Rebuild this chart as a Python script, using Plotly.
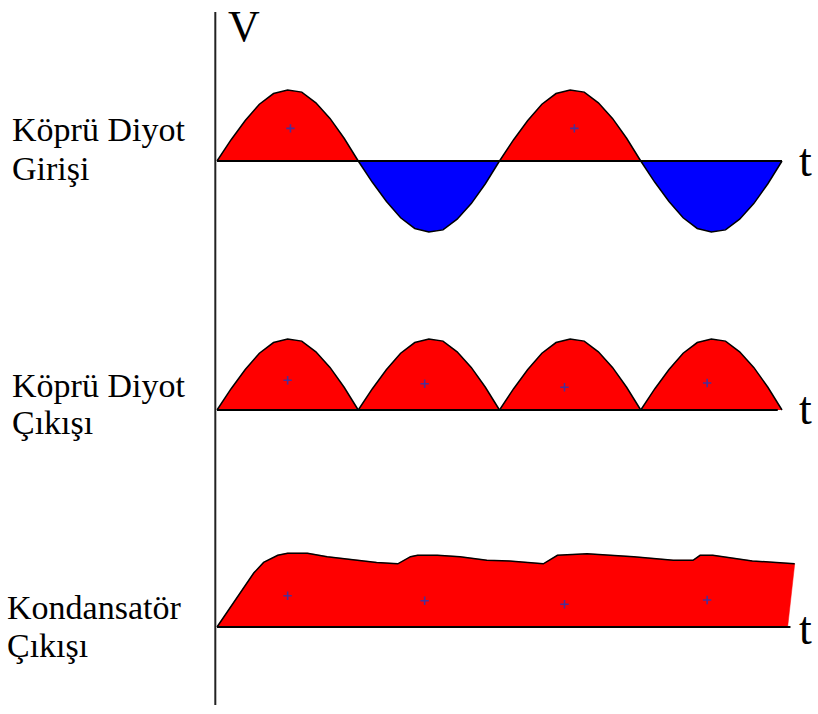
import plotly.graph_objects as go

# ---------------- data ----------------
# time in half-periods of the mains wave, voltage in units of the peak value
input_t = [round(0.1 * i, 1) for i in range(41)]
input_v = [0, 0.30, 0.57, 0.80, 0.95, 1.00, 0.97, 0.82, 0.60, 0.32, 0,
           -0.30, -0.57, -0.80, -0.95, -1.00, -0.97, -0.82, -0.60, -0.32, 0,
           0.30, 0.57, 0.80, 0.95, 1.00, 0.97, 0.82, 0.60, 0.32, 0,
           -0.30, -0.57, -0.80, -0.95, -1.00, -0.97, -0.82, -0.60, -0.32, 0]

output_t = input_t
output_v = [0, 0.30, 0.57, 0.80, 0.95, 1.00, 0.97, 0.82, 0.60, 0.32, 0,
            0.30, 0.57, 0.80, 0.95, 1.00, 0.97, 0.82, 0.60, 0.32, 0,
            0.30, 0.57, 0.80, 0.95, 1.00, 0.97, 0.82, 0.60, 0.32, 0,
            0.30, 0.57, 0.80, 0.95, 1.00, 0.97, 0.82, 0.60, 0.32, 0]

cap_t = [0, 0.09, 0.18, 0.26, 0.33, 0.43, 0.50, 0.64, 0.78, 1.13, 1.28, 1.37,
         1.42, 1.56, 1.72, 1.91, 2.07, 2.24, 2.31, 2.41, 2.62, 2.95, 3.23,
         3.37, 3.42, 3.51, 3.79, 4.09]
cap_v = [0, 0.26, 0.53, 0.76, 0.91, 1.01, 1.04, 1.04, 0.99, 0.91, 0.89, 0.99,
         1.01, 1.01, 0.99, 0.94, 0.93, 0.90, 0.89, 1.01, 1.03, 0.99, 0.94,
         0.94, 1.01, 1.01, 0.93, 0.89]
cap_end_t = 4.04

baseline_end_t = [4.0, 3.97, 4.06]

marker_t = [[0.52, 2.53], [0.50, 1.47, 2.46, 3.47], [0.50, 1.47, 2.46, 3.47]]
marker_v = [[0.46, 0.46], [0.42, 0.37, 0.32, 0.38], [0.44, 0.37, 0.32, 0.38]]

row_labels = [["Köprü Diyot", "Girişi"], ["Köprü Diyot", "Çıkışı"],
              ["Kondansatör", "Çıkışı"]]
axis_label_v = "V"
axis_label_t = "t"

# ---------------- layout helpers ----------------
W, H = 818, 714
PX_T0, PX_PER_T = 217, 141.25        # pixel of t=0, pixels per half-period
PX_PER_V = 71                        # pixels per unit voltage
row_base_px = [161, 410, 627]
RNG = 1.2

RED, BLUE, BLACK, MARK = "#ff0000", "#0000ff", "#000000", "#4b2f96"
yax = ["y", "y2", "y3"]

fig = go.Figure()

def add_humps(t, v, row):
    for k in range(4):
        seg_t = t[10 * k:10 * k + 11]
        seg_v = v[10 * k:10 * k + 11]
        col = RED if max(seg_v) > 0 else BLUE
        fig.add_trace(go.Scatter(x=seg_t, y=seg_v, mode="lines", fill="tozeroy",
                                 fillcolor=col, line=dict(color=BLACK, width=1.5),
                                 xaxis="x", yaxis=yax[row], hoverinfo="skip"))

add_humps(input_t, input_v, 0)
add_humps(output_t, output_v, 1)

# capacitor output: filled area then black top outline
fig.add_trace(go.Scatter(x=cap_t + [cap_end_t], y=cap_v + [0], mode="lines",
                         fill="tozeroy", fillcolor=RED,
                         line=dict(color=RED, width=0.5),
                         xaxis="x", yaxis="y3", hoverinfo="skip"))
fig.add_trace(go.Scatter(x=cap_t, y=cap_v, mode="lines",
                         line=dict(color=BLACK, width=1.5),
                         xaxis="x", yaxis="y3", hoverinfo="skip"))

# time axes (baselines)
for r in range(3):
    fig.add_trace(go.Scatter(x=[0, baseline_end_t[r]], y=[0, 0], mode="lines",
                             line=dict(color=BLACK, width=2.2),
                             xaxis="x", yaxis=yax[r], hoverinfo="skip"))

# small centre marks
for r in range(3):
    fig.add_trace(go.Scatter(x=marker_t[r], y=marker_v[r], mode="markers",
                             marker=dict(symbol="cross-thin", size=6,
                                         line=dict(color=MARK, width=1.6)),
                             xaxis="x", yaxis=yax[r], hoverinfo="skip"))

def ydom(base):
    return [1 - (base + RNG * PX_PER_V) / H, 1 - (base - RNG * PX_PER_V) / H]

hidden = dict(visible=False, showgrid=False, zeroline=False, fixedrange=True)
layout = dict(
    width=W, height=H, margin=dict(l=0, r=0, t=0, b=0),
    paper_bgcolor="white", plot_bgcolor="rgba(0,0,0,0)", showlegend=False,
    xaxis=dict(range=[-PX_T0 / PX_PER_T, (W - PX_T0) / PX_PER_T],
               domain=[0, 1], **hidden),
)
for r, name in enumerate(["yaxis", "yaxis2", "yaxis3"]):
    layout[name] = dict(range=[-RNG, RNG], domain=ydom(row_base_px[r]),
                        anchor="x", **hidden)
fig.update_layout(**layout)

# vertical V axis
fig.add_shape(type="line", xref="x", yref="paper", x0=-0.012, x1=-0.012,
              y0=1 - 12 / H, y1=1 - 705 / H, line=dict(color="#222222", width=2))

SERIF = "Liberation Serif"

def px_ann(text, x, y, size, yanchor="middle"):
    fig.add_annotation(text=text, xref="paper", yref="paper", x=x / W,
                       y=1 - y / H, xanchor="left", yanchor=yanchor,
                       showarrow=False, font=dict(family=SERIF, size=size,
                                                  color=BLACK))

px_ann(axis_label_v, 226, 0, 44, yanchor="top")
for yc in [160, 408, 628]:
    px_ann(axis_label_t, 797, yc, 46)

label_pos = [(10, 129, 168), (10, 385, 422), (5, 607, 645)]
for (x, y1, y2), (l1, l2) in zip(label_pos, row_labels):
    px_ann(l1, x, y1, 34)
    px_ann(l2, x, y2, 34)

fig.write_html("out.html", config={"staticPlot": True},
               post_script="document.body.style.margin='0';"
                           "document.body.style.overflow='hidden';")
